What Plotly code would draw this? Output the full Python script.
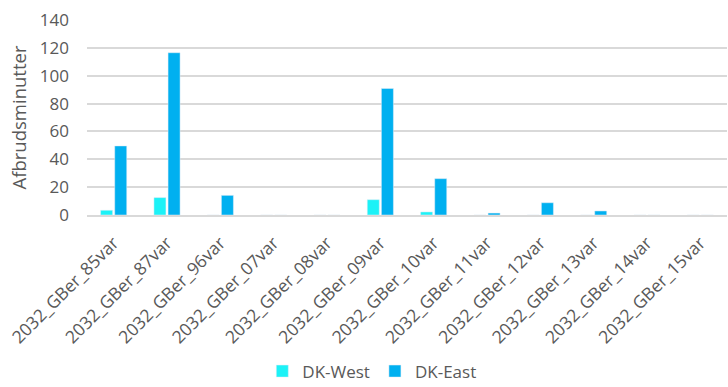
import plotly.graph_objects as go

categories = ["2032_GBer_85var", "2032_GBer_87var", "2032_GBer_96var", "2032_GBer_07var",
              "2032_GBer_08var", "2032_GBer_09var", "2032_GBer_10var", "2032_GBer_11var",
              "2032_GBer_12var", "2032_GBer_13var", "2032_GBer_14var", "2032_GBer_15var"]
dk_west = [3.4, 12.5, 0, 0, 0, 11, 2.2, 0, 0, 0, 0, 0]
dk_east = [49.6, 116.5, 14.1, 0, 0, 90.8, 26.1, 1.4, 8.8, 2.9, 0, 0]
y_ticks = [0, 20, 40, 60, 80, 100, 120, 140]

font_family = "Open Sans, Liberation Sans, sans-serif"
grey = "#595959"

fig = go.Figure()
fig.add_trace(go.Bar(name="DK-West", x=categories, y=dk_west, marker_color="#1CF2F7"))
fig.add_trace(go.Bar(name="DK-East", x=categories, y=dk_east, marker_color="#00B0F0"))

fig.update_layout(
    width=728, height=387,
    margin=dict(l=87, r=1, t=20, b=172),
    paper_bgcolor="white", plot_bgcolor="white",
    barmode="group", bargap=0.47, bargroupgap=0.15,
    font=dict(family=font_family, color=grey, size=15),
    legend=dict(orientation="h", x=0.445, xanchor="center",
                yref="container", y=0.04, yanchor="middle",
                font=dict(size=17, color=grey), traceorder="normal", itemwidth=30,
                tracegroupgap=0),
    showlegend=True,
)
fig.update_xaxes(tickangle=-45, tickfont=dict(size=17.5, color=grey),
                 showline=True, linecolor="#D9D9D9", linewidth=1.5, ticks="",
                 ticklabelstandoff=9,
                 showgrid=False, automargin=False)
fig.update_yaxes(range=[0, 140], tickvals=y_ticks, showgrid=True, gridcolor="#D9D9D9",
                 gridwidth=1.5, zeroline=False, tickfont=dict(size=17, color=grey),
                 ticklabelstandoff=17, automargin=False,
                 title=dict(text="Afbrudsminutter", font=dict(size=18.5, color=grey), standoff=8),
                 ticks="", showline=False)

fig.write_html("out.html")
